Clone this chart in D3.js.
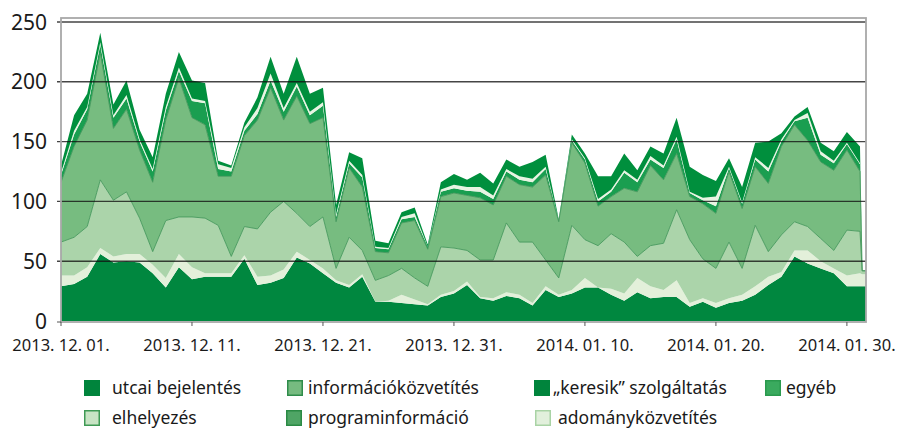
<!DOCTYPE html>
<html>
<head>
<meta charset="utf-8">
<script src="https://cdn.jsdelivr.net/npm/d3@7"></script>
<style>
  body { margin: 0; background: #fff; }
  text { font-family: "Noto Sans", "Open Sans", sans-serif; fill: #1a1a1a; }
</style>
</head>
<body>
<div id="chart-container"></div>
<script>
/**************************************************
 * Data (daily counts, 2013.12.01 - 2014.01.31)
 **************************************************/

const startDay = "2013-12-01";
const endDay = "2014-02-01";

const utcai = [29,31,37,56,49,50,49,40,28,45, 35,37,37,37,52,30,32,36,53,48,
  40,32,28,37,16,16,15,14,13,20, 23,30,19,17,21,19,13,26,20,23,
  28,28,22,17,24,19,20,20,12,16, 11,15,17,22,30,37,54,48,44,40, 29,29];

const adomany = [9,7,8,5,5,6,7,7,8,11, 10,3,3,3,3,7,6,7,5,3,
  4,2,2,2,0,1,7,4,1,2, 2,3,1,2,3,3,2,3,2,3,
  8,0,5,6,12,10,6,14,3,3, 4,4,5,7,7,4,5,11,6,4, 9,11];

const elhelyezes = [28,32,34,57,47,52,30,11,48,31, 42,46,40,14,24,40,53,57,32,28,
  43,10,40,20,18,21,22,18,15,40, 36,26,31,32,58,44,51,22,14,54,
  32,35,46,43,18,34,39,59,53,33, 29,47,22,51,21,31,24,20,19,15, 38,35];

const informacio = [50,76,89,106,60,69,57,58,84,116, 83,78,41,67,76,91,104,68,98,86,
  83,39,58,53,24,19,38,48,31,42, 46,46,52,46,39,48,46,71,47,69,
  64,33,31,45,54,67,53,47,36,46, 46,59,50,49,57,74,81,72,64,67, 67,50];

const program = [6,10,9,7,9,9,7,9,8,6, 14,18,6,4,4,5,6,7,8,7,
  10,4,4,8,3,3,3,3,2,4, 4,4,5,5,4,4,4,5,1,2,
  3,4,4,13,8,5,10,12,3,3, 6,3,4,6,10,4,3,19,6,6, 5,6];

const egyeb = [2,3,2,2,2,3,2,2,3,3, 2,2,4,3,3,5,6,3,3,3,
  3,2,2,2,1,1,2,3,0,2, 3,3,4,3,2,3,3,2,0,1,
  1,2,2,2,2,3,2,2,1,2, 8,1,1,2,3,2,1,4,3,2, 1,1];

const keresik = [6,13,11,8,9,12,8,10,11,13, 15,15,3,2,4,9,14,12,22,15,
  12,8,7,14,5,4,4,5,2,6, 9,6,12,10,8,8,14,10,1,4,
  4,19,11,14,8,8,10,16,21,19, 13,7,13,12,22,5,3,5,7,8, 9,14];

// values left in the last hours of the period (top series drop out)
const closingValues = [29, 10, 3, 0, 0, 0, 0];

const seriesKeys = ["utcai", "adomany", "elhelyezes", "informacio", "program", "egyeb", "keresik"];
const seriesNames = ["utcai bejelentés", "adományközvetítés", "elhelyezés", "információközvetítés",
  "programinformáció", "egyéb", "„keresik” szolgáltatás"];

const yTicks = [0, 50, 100, 150, 200, 250];
const xTickDays = ["2013-12-01", "2013-12-11", "2013-12-21", "2013-12-31", "2014-01-10", "2014-01-20", "2014-01-30"];
const xTickLabels = ["2013. 12. 01.", "2013. 12. 11.", "2013. 12. 21.", "2013. 12. 31.", "2014. 01. 10.", "2014. 01. 20.", "2014. 01. 30."];

/**************************************************
 * Styles
 **************************************************/

const fills = {
  utcai: "#00873f", adomany: "#e3f0da", elhelyezes: "#abd4aa", informacio: "#77bc80",
  program: "#1a9e50", egyeb: "#e8f4e2", keresik: "#008f3d"
};
const swatch = {
  utcai: ["#00843c", "#00843c"], elhelyezes: ["#c8e4c4", "#3f9a55"],
  informacio: ["#76bb80", "#2f8c4b"], program: ["#4fa565", "#2b8a45"],
  keresik: ["#00843c", "#00843c"], adomany: ["#e2f0dc", "#a9d3a5"],
  egyeb: ["#3aaa5e", "#2b9a4e"]
};

/**************************************************
 * Rendering
 **************************************************/

const width = 897, height = 431;
const plotLeft = 61, plotRight = 866, plotTop = 18, plotBottom = 321;

const svg = d3.select("#chart-container")
  .append("svg")
  .attr("width", width)
  .attr("height", height);

const parse = d3.timeParse("%Y-%m-%d");
const days = d3.timeDay.range(parse(startDay), parse(endDay));
const lastDay = days[days.length - 1];

const rows = days.map((d, i) => ({
  date: d,
  utcai: utcai[i], adomany: adomany[i], elhelyezes: elhelyezes[i], informacio: informacio[i],
  program: program[i], egyeb: egyeb[i], keresik: keresik[i]
}));
[4, 12].forEach(h => {
  const r = { date: d3.timeHour.offset(lastDay, h) };
  seriesKeys.forEach((k, i) => r[k] = closingValues[i]);
  rows.push(r);
});

const x = d3.scaleTime()
  .domain([days[0], d3.timeHour.offset(lastDay, 11)])
  .range([plotLeft, plotRight]);

const y = d3.scaleLinear()
  .domain([0, 250])
  .range([plotBottom, 22]);

const stacked = d3.stack().keys(seriesKeys)(rows);

svg.append("defs").append("clipPath")
  .attr("id", "plot-clip")
  .append("rect")
  .attr("x", plotLeft).attr("y", plotTop)
  .attr("width", plotRight - plotLeft).attr("height", plotBottom - plotTop);

const area = d3.area()
  .x(d => x(d.data.date))
  .y0(d => y(d[0]))
  .y1(d => y(d[1]));

const plot = svg.append("g").attr("clip-path", "url(#plot-clip)");

plot.selectAll(".layer")
  .data(stacked)
  .join("path")
  .attr("class", "layer")
  .attr("fill", d => fills[d.key])
  .attr("d", area);

// thin darker edge on top of the two middle layers
const topLine = d3.line()
  .x(d => x(d.data.date))
  .y(d => y(d[1]));

plot.selectAll(".edge")
  .data(stacked.filter(s => s.key === "elhelyezes" || s.key === "informacio"))
  .join("path")
  .attr("class", "edge")
  .attr("fill", "none")
  .attr("stroke", "#46985c")
  .attr("stroke-width", 0.9)
  .attr("d", topLine);

// gridlines over the areas
svg.selectAll(".grid")
  .data(yTicks.filter(t => t > 0))
  .join("line")
  .attr("class", "grid")
  .attr("x1", plotLeft - 4).attr("x2", plotRight)
  .attr("y1", d => y(d)).attr("y2", d => y(d))
  .attr("stroke", "#111")
  .attr("stroke-opacity", 0.78)
  .attr("stroke-width", 1.4);

// frame
svg.append("rect")
  .attr("x", plotLeft).attr("y", plotTop)
  .attr("width", plotRight - plotLeft).attr("height", plotBottom - plotTop + 1)
  .attr("fill", "none")
  .attr("stroke", "#a8a8a8")
  .attr("stroke-width", 1.8);

svg.append("line")
  .attr("x1", plotLeft - 4).attr("x2", plotLeft)
  .attr("y1", plotBottom + 1).attr("y2", plotBottom + 1)
  .attr("stroke", "#555");

// y labels
svg.selectAll(".y-label")
  .data(yTicks)
  .join("text")
  .attr("class", "y-label")
  .attr("x", 47)
  .attr("y", d => y(d))
  .attr("dy", "0.36em")
  .attr("text-anchor", "end")
  .attr("font-size", "21px")
  .text(d => d);

// x ticks and labels
const tickDates = xTickDays.map(parse);
svg.selectAll(".x-tick")
  .data(tickDates)
  .join("line")
  .attr("class", "x-tick")
  .attr("x1", d => x(d)).attr("x2", d => x(d))
  .attr("y1", plotBottom + 1).attr("y2", plotBottom + 5)
  .attr("stroke", "#555");

svg.selectAll(".x-label")
  .data(tickDates)
  .join("text")
  .attr("class", "x-label")
  .attr("x", (d, i) => Math.min(x(d), width - 50))
  .attr("y", 351)
  .attr("text-anchor", "middle")
  .attr("font-size", "16.5px")
  .text((d, i) => xTickLabels[i]);

// legend, laid out as in the original
const legendItems = [
  { key: "utcai", x: 84, row: 0, gap: 28 },
  { key: "informacio", x: 287, row: 0, gap: 21 },
  { key: "keresik", x: 534, row: 0, gap: 19 },
  { key: "egyeb", x: 765, row: 0, gap: 21 },
  { key: "elhelyezes", x: 84, row: 1, gap: 28 },
  { key: "program", x: 286, row: 1, gap: 22 },
  { key: "adomany", x: 535, row: 1, gap: 23 }
];
const legendRowY = [388, 418];

const legend = svg.append("g").attr("class", "legend");
legendItems.forEach(item => {
  const cy = legendRowY[item.row];
  legend.append("rect")
    .attr("x", item.x + 0.75).attr("y", cy - 7.25)
    .attr("width", 14.5).attr("height", 14.5)
    .attr("fill", swatch[item.key][0])
    .attr("stroke", swatch[item.key][1])
    .attr("stroke-width", 1.5);
  legend.append("text")
    .attr("x", item.x + item.gap)
    .attr("y", cy)
    .attr("dy", "0.36em")
    .attr("font-size", "17.5px")
    .text(seriesNames[seriesKeys.indexOf(item.key)]);
});
</script>
</body>
</html>
